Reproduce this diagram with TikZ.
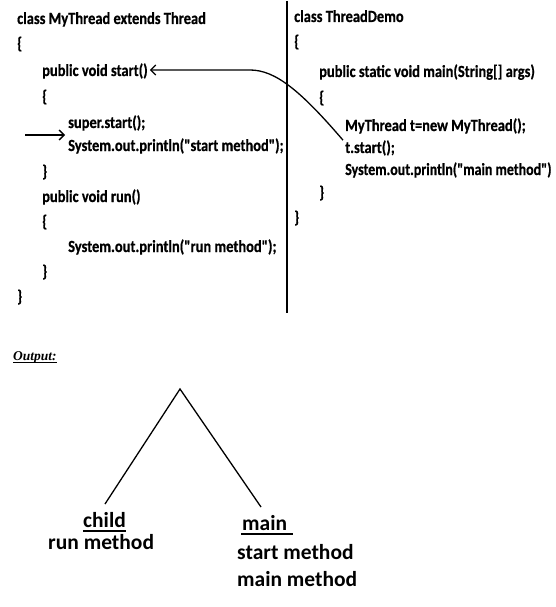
\documentclass[tikz,border=0pt]{standalone}
\usepackage{fontspec}
\usetikzlibrary{arrows.meta}
\newfontfamily\codefont[FakeStretch=0.85,FakeBold=0.6]{Carlito}
\newfontfamily\labfont{Carlito}
\newfontfamily\outfont{Liberation Serif}
\tikzset{
  code/.style={anchor=base west, inner sep=0pt, font=\codefont\bfseries\fontsize{17}{19}\selectfont},
  lab/.style={anchor=base west, inner sep=0pt, font=\labfont\bfseries\fontsize{21.5}{24}\selectfont},
  barb/.style={-{Straight Barb[length=5pt,width=10pt,line width=1.3pt]}, line width=1.3pt},
  ul/.style={line width=2pt},
  leg/.style={line width=1.3pt}
}
\begin{document}
\begin{tikzpicture}[x=1pt,y=-1pt]
\useasboundingbox (0,0) rectangle (555,607);
% left column
\node[code] (l1) at (17,24) {class MyThread extends Thread};
\node[code] (l2) at (17,49) {\{};
\node[code] (l3) at (42,76) {public void start()};
\node[code] (l4) at (42,102) {\{};
\node[code] (l5) at (68,128) {super.start();};
\node[code] (l6) at (68,151) {System.out.println("start method");};
\node[code] (l7) at (42,177) {\}};
\node[code] (l8) at (42,202) {public void run()};
\node[code] (l9) at (42,227) {\{};
\node[code] (l10) at (68,252) {System.out.println("run method");};
\node[code] (l11) at (42,277) {\}};
\node[code] (l12) at (17,302) {\}};
% divider
\coordinate (vtop) at (287,1);
\coordinate (vbot) at (287,313);
\draw[line width=1.2pt] (vtop) -- (vbot);
% right column
\node[code] (r1) at (294,22) {class ThreadDemo};
\node[code] (r2) at (294,47) {\{};
\node[code] (r3) at (319,77) {public static void main(String[] args)};
\node[code] (r4) at (319,103) {\{};
\node[code] (r5) at (345,131) {MyThread t=new MyThread();};
\node[code] (r6) at (345,153) {t.start();};
\node[code] (r7) at (345,175) {\scalebox{0.965}[1]{System.out.println("main method")}};
\node[code] (r8) at (319,198) {\}};
\node[code] (r9) at (294,223) {\}};
% arrows
\coordinate (a0) at (25,135);
\draw[barb] (a0) -- ([xshift=-3pt]l5.west |- a0);
\draw[barb] ([xshift=-2pt]r6.north west) .. controls (300,90) and (275,70) .. (250,70) -- ([xshift=2pt]l3.east |- 0,70);
% output
\node[anchor=base west, inner sep=0pt, font=\outfont\bfseries\itshape\fontsize{13.5}{15}\selectfont] (out) at (13,360) {Output:};
\draw[line width=1pt] ([yshift=-2pt]out.base west) -- ([yshift=-2pt]out.base east);
% tree
\coordinate (apex) at (180,389);
\coordinate (lft) at (105,504);
\coordinate (rgt) at (261,507);
\draw[leg] (lft) -- (apex) -- (rgt);
\node[lab] (child) at (83,527) {child};
\node[lab] (run) at (48,549) {run method};
\node[lab] (main) at (242,530) {main};
\node[lab] (sm) at (237,559) {start method};
\node[lab] (mm) at (237,586) {main method};
\draw[ul] ([yshift=-4pt]child.base west) -- ([yshift=-4pt]child.base east);
\draw[ul] ([yshift=-4pt,xshift=-1pt]main.base west) -- ([yshift=-4pt,xshift=6pt]main.base east);
\end{tikzpicture}
\end{document}
